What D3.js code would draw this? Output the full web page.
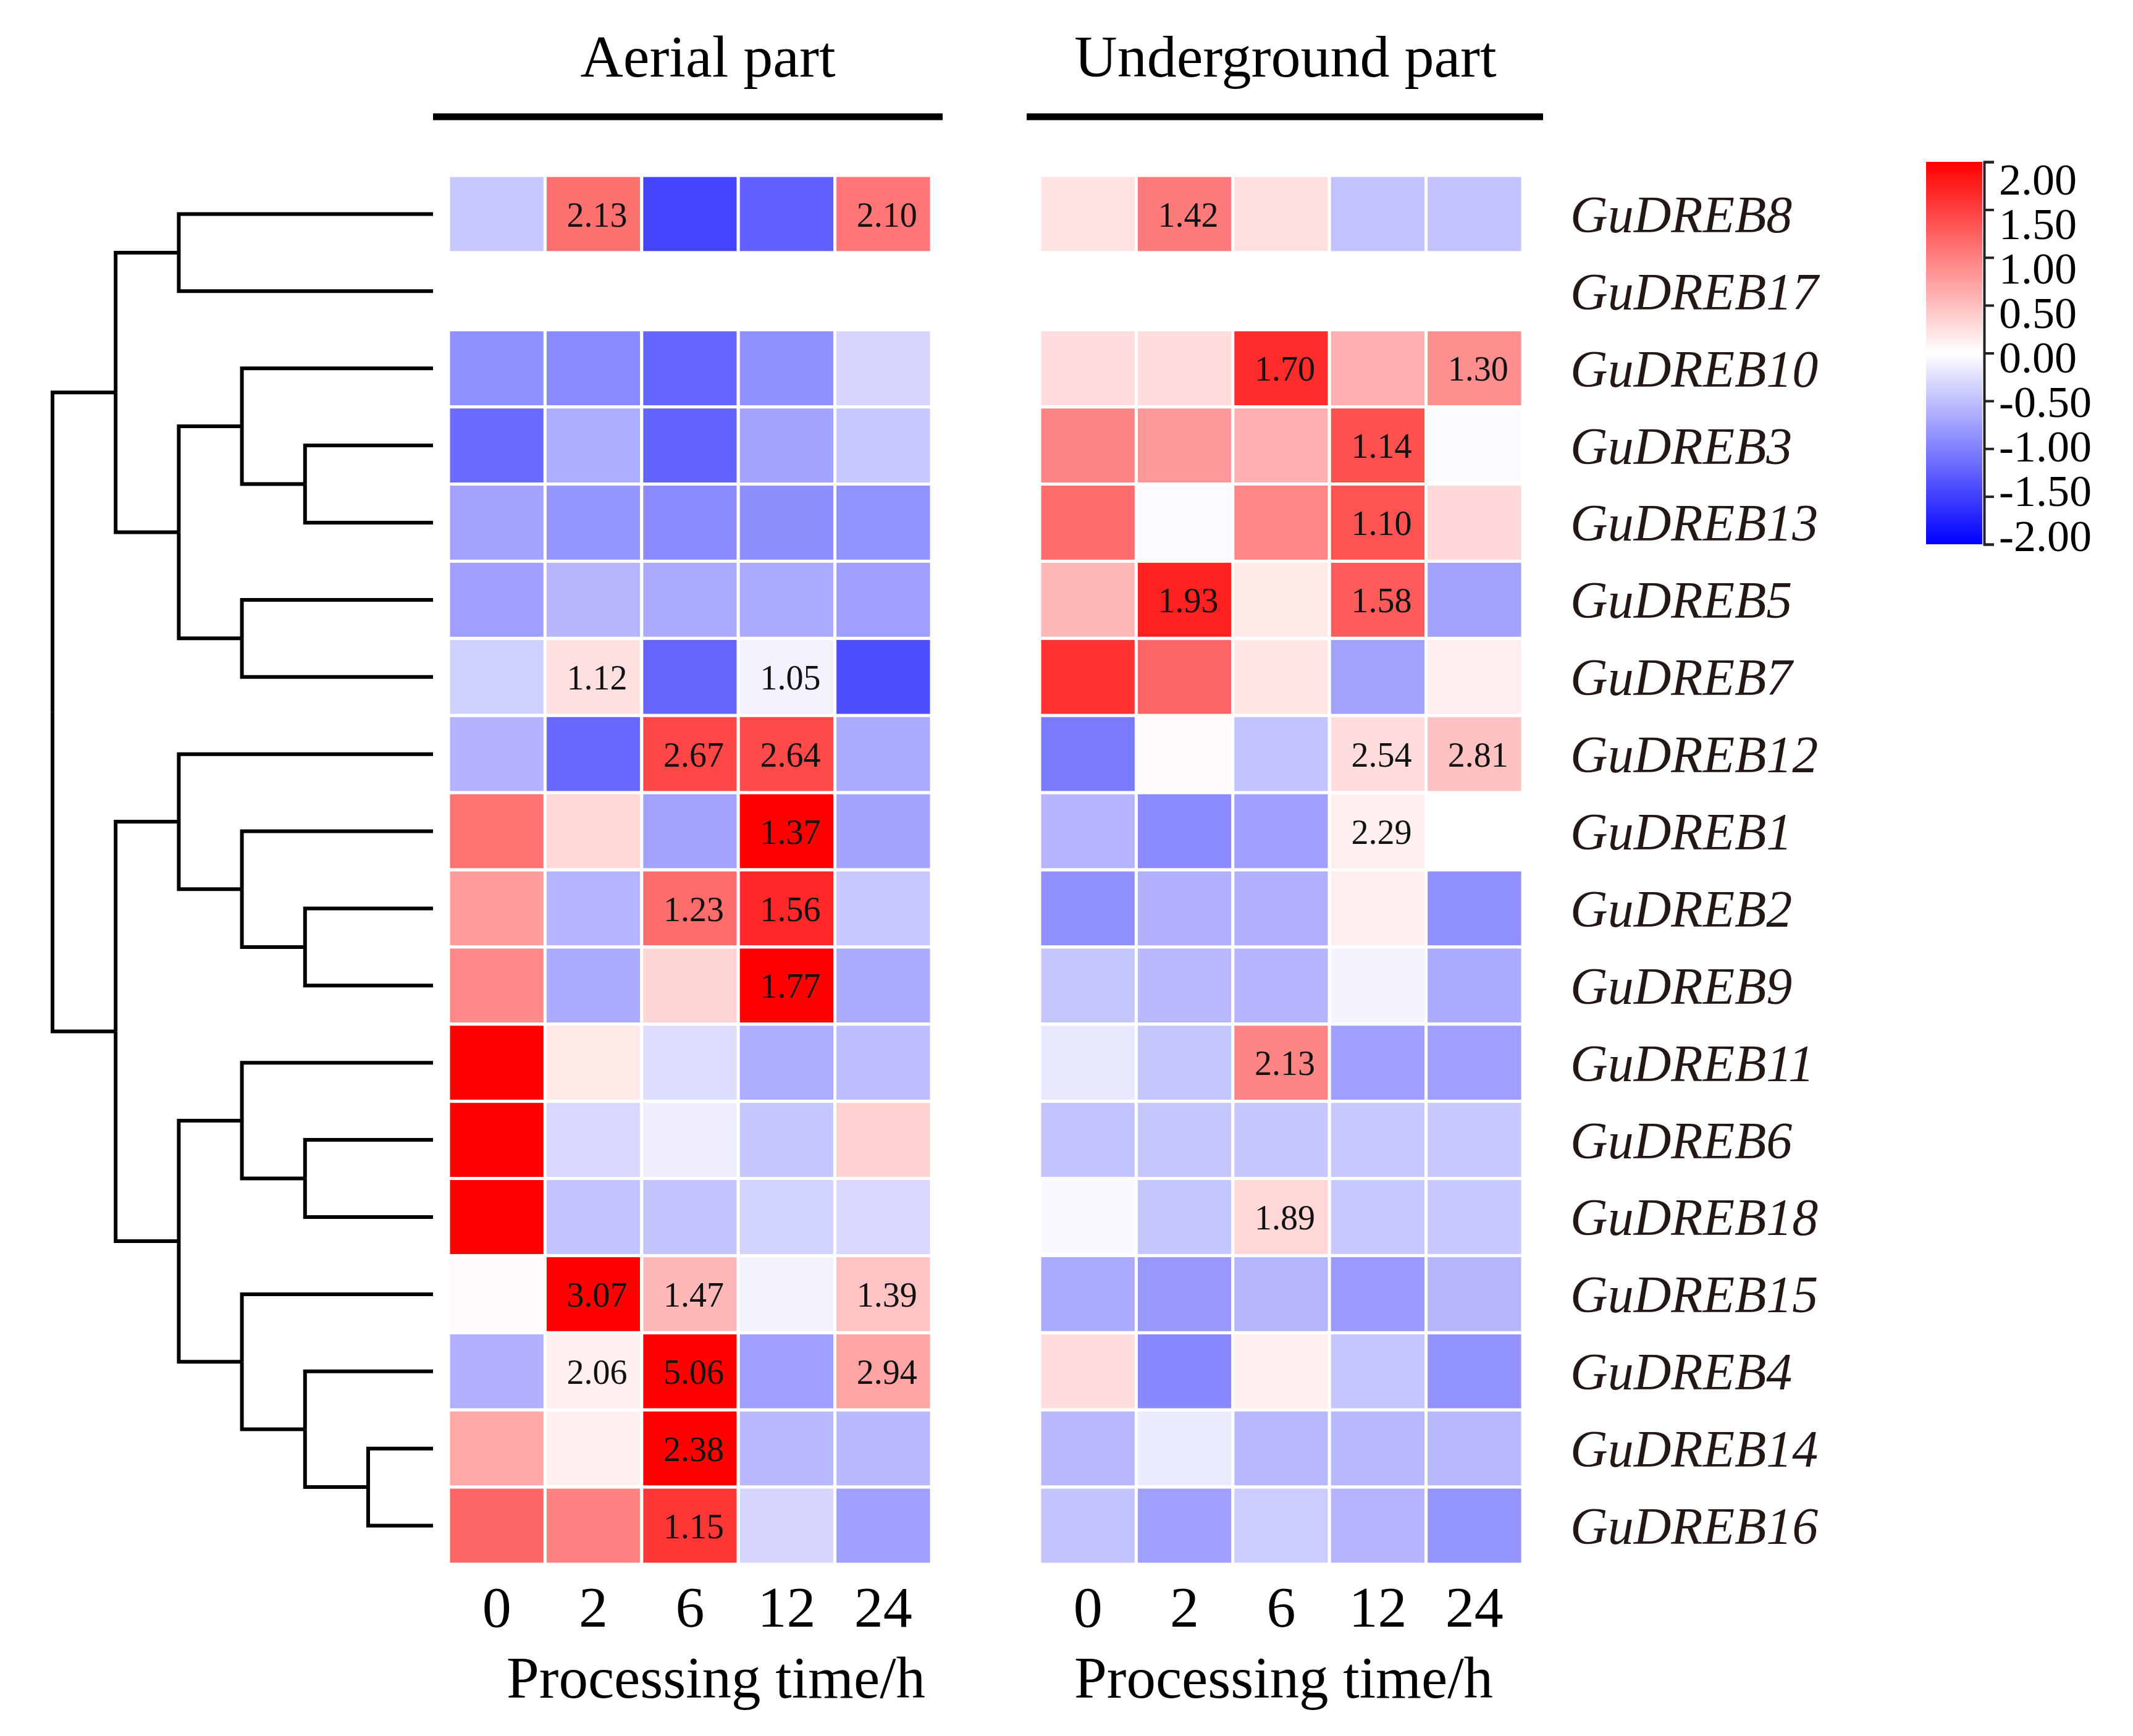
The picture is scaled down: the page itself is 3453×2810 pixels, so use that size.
<!DOCTYPE html>
<html lang="en">
<head>
<meta charset="UTF-8">
<title>GuDREB heatmap</title>
<script src="https://d3js.org/d3.v7.min.js"></script>
<style>
  body { margin: 0; background: #fff; }
  svg { display: block; }
  text { font-family: "Liberation Serif", "Times New Roman", serif; }
</style>
</head>
<body>
<svg width="3453" height="2810"></svg>
<script>
    // ---- data ----
    const genes = ["GuDREB8", "GuDREB17", "GuDREB10", "GuDREB3", "GuDREB13", "GuDREB5", "GuDREB7",
        "GuDREB12", "GuDREB1", "GuDREB2", "GuDREB9", "GuDREB11", "GuDREB6", "GuDREB18",
        "GuDREB15", "GuDREB4", "GuDREB14", "GuDREB16"];
    const times = ["0", "2", "6", "12", "24"];

    // cluster tree (row order above)
    const tree = [
        [["GuDREB8", "GuDREB17"], [["GuDREB10", ["GuDREB3", "GuDREB13"]], ["GuDREB5", "GuDREB7"]]],
        [["GuDREB12", ["GuDREB1", ["GuDREB2", "GuDREB9"]]],
         [["GuDREB11", ["GuDREB6", "GuDREB18"]], ["GuDREB15", ["GuDREB4", ["GuDREB14", "GuDREB16"]]]]]
    ];

    // colour values (scaled), null = no data
    const aerial = [
        [-0.43, 1.12, -1.47, -1.25, 1.08],
        [null, null, null, null, null],
        [-0.87, -0.92, -1.21, -0.87, -0.33],
        [-1.16, -0.64, -1.22, -0.73, -0.43],
        [-0.72, -0.82, -0.91, -0.89, -0.85],
        [-0.75, -0.57, -0.66, -0.66, -0.75],
        [-0.37, 0.24, -1.20, -0.10, -1.39],
        [-0.60, -1.18, 1.44, 1.42, -0.67],
        [1.10, 0.31, -0.72, 2.00, -0.71],
        [0.78, -0.59, 1.15, 1.69, -0.42],
        [0.93, -0.66, 0.33, 2.00, -0.66],
        [2.00, 0.18, -0.27, -0.64, -0.51],
        [2.00, -0.31, -0.13, -0.45, 0.37],
        [2.00, -0.48, -0.48, -0.35, -0.31],
        [0.05, 2.00, 0.56, -0.10, 0.47],
        [-0.62, 0.12, 2.00, -0.75, 0.71],
        [0.68, 0.12, 2.00, -0.55, -0.55],
        [1.20, 0.98, 1.58, -0.33, -0.75]
    ];
    const underground = [
        [0.23, 1.04, 0.26, -0.48, -0.48],
        [null, null, null, null, null],
        [0.27, 0.27, 1.67, 0.62, 0.89],
        [0.96, 0.81, 0.62, 1.37, -0.03],
        [1.15, -0.03, 0.95, 1.36, 0.30],
        [0.56, 1.75, 0.18, 1.29, -0.72],
        [1.60, 1.20, 0.20, -0.72, 0.13],
        [-1.04, 0.03, -0.47, 0.27, 0.49],
        [-0.58, -0.91, -0.75, 0.12, 0.00],
        [-0.88, -0.62, -0.62, 0.12, -0.88],
        [-0.45, -0.55, -0.59, -0.09, -0.66],
        [-0.18, -0.45, 0.96, -0.75, -0.75],
        [-0.47, -0.45, -0.45, -0.43, -0.43],
        [-0.05, -0.45, 0.31, -0.43, -0.43],
        [-0.66, -0.81, -0.57, -0.80, -0.57],
        [0.27, -0.93, 0.12, -0.46, -0.85],
        [-0.56, -0.16, -0.56, -0.56, -0.56],
        [-0.47, -0.75, -0.40, -0.59, -0.84]
    ];

    // numbers printed in cells
    const aerialLabels = [
        [null, "2.13", null, null, "2.10"], [null, null, null, null, null],
        [null, null, null, null, null], [null, null, null, null, null],
        [null, null, null, null, null], [null, null, null, null, null],
        [null, "1.12", null, "1.05", null], [null, null, "2.67", "2.64", null],
        [null, null, null, "1.37", null], [null, null, "1.23", "1.56", null],
        [null, null, null, "1.77", null], [null, null, null, null, null],
        [null, null, null, null, null], [null, null, null, null, null],
        [null, "3.07", "1.47", null, "1.39"], [null, "2.06", "5.06", null, "2.94"],
        [null, null, "2.38", null, null], [null, null, "1.15", null, null]
    ];
    const undergroundLabels = [
        [null, "1.42", null, null, null], [null, null, null, null, null],
        [null, null, "1.70", null, "1.30"], [null, null, null, "1.14", null],
        [null, null, null, "1.10", null], [null, "1.93", null, "1.58", null],
        [null, null, null, null, null], [null, null, null, "2.54", "2.81"],
        [null, null, null, "2.29", null], [null, null, null, null, null],
        [null, null, null, null, null], [null, null, "2.13", null, null],
        [null, null, null, null, null], [null, null, "1.89", null, null],
        [null, null, null, null, null], [null, null, null, null, null],
        [null, null, null, null, null], [null, null, null, null, null]
    ];

    const legendTicks = [-2, -1.5, -1, -0.5, 0, 0.5, 1, 1.5, 2];

    // ---- drawing ----
    const svg = d3.select("svg");
    svg.append("rect").attr("width", 3453).attr("height", 2810).attr("fill", "#fff");

    const y = d3.scaleBand().domain(genes).range([284, 2532]);
    const color = d3.scaleLinear().domain([-2, 0, 2])
        .range(["#0000ff", "#ffffff", "#ff0000"]).clamp(true);

    const panels = [
        { name: "Aerial part", vals: aerial, labs: aerialLabels, range: [726, 1508],
          line: [701, 1526], titleX: 1146, axisTitleX: 1159 },
        { name: "Underground part", vals: underground, labs: undergroundLabels, range: [1683, 2465],
          line: [1662, 2498], titleX: 2081, axisTitleX: 2078 }
    ];

    panels.forEach(function (p) {
        const x = d3.scaleBand().domain(times).range(p.range);
        const g = svg.append("g");

        const cells = [];
        p.vals.forEach(function (row, i) {
            row.forEach(function (v, j) {
                cells.push({ gene: genes[i], time: times[j], v: v, lab: p.labs[i][j] });
            });
        });

        g.selectAll("rect.cell")
            .data(cells.filter(d => d.v !== null))
            .enter().append("rect")
            .attr("class", "cell")
            .attr("x", d => x(d.time))
            .attr("y", d => y(d.gene))
            .attr("width", x.bandwidth())
            .attr("height", y.bandwidth())
            .attr("fill", d => color(d.v))
            .attr("stroke", "#fff")
            .attr("stroke-width", 5);

        g.selectAll("text.lab")
            .data(cells.filter(d => d.lab))
            .enter().append("text")
            .attr("class", "lab")
            .attr("x", d => x(d.time) + x.bandwidth() / 2 + 6)
            .attr("y", d => y(d.gene) + y.bandwidth() / 2)
            .attr("dy", "0.36em")
            .attr("text-anchor", "middle")
            .attr("font-size", 56)
            .attr("fill", "#111")
            .text(d => d.lab);

        // title + bar
        svg.append("text")
            .attr("x", p.titleX).attr("y", 124)
            .attr("text-anchor", "middle")
            .attr("font-size", 96)
            .text(p.name);
        svg.append("line")
            .attr("x1", p.line[0]).attr("x2", p.line[1])
            .attr("y1", 189).attr("y2", 189)
            .attr("stroke", "#000").attr("stroke-width", 11);

        // x axis
        const ax = svg.append("g")
            .attr("transform", "translate(0,2532)")
            .call(d3.axisBottom(x).tickSize(0).tickPadding(34));
        ax.select(".domain").remove();
        ax.selectAll("text")
            .attr("font-size", 94)
            .attr("fill", "#000")
            .style("font-family", "'Liberation Serif', serif");

        svg.append("text")
            .attr("x", p.axisTitleX).attr("y", 2748)
            .attr("text-anchor", "middle")
            .attr("font-size", 95)
            .text("Processing time/h");
    });

    // gene labels
    svg.append("g").selectAll("text")
        .data(genes)
        .enter().append("text")
        .attr("x", 2542)
        .attr("y", d => y(d) + y.bandwidth() / 2)
        .attr("dy", "0.35em")
        .attr("font-size", 84)
        .attr("font-style", "italic")
        .attr("fill", "#231815")
        .text(d => d);

    // dendrogram
    const root = d3.hierarchy(tree, d => Array.isArray(d) ? d : null);
    root.eachAfter(function (n) {
        if (n.children) {
            n.yy = d3.mean(n.children, c => c.yy);
        } else {
            n.yy = y(n.data) + y.bandwidth() / 2;
        }
    });
    const depthX = d3.scaleLinear().domain([0, 5]).range([85, 596]);
    const nodeX = n => n.children ? depthX(n.depth) : 701;

    svg.append("g")
        .attr("fill", "none")
        .attr("stroke", "#000")
        .attr("stroke-width", 6)
        .selectAll("path")
        .data(root.links())
        .enter().append("path")
        .attr("d", l => `M${nodeX(l.target)},${l.target.yy}H${nodeX(l.source)}V${l.source.yy}`);

    // colour legend
    const defs = svg.append("defs");
    const grad = defs.append("linearGradient")
        .attr("id", "legendGrad")
        .attr("x1", 0).attr("y1", 1).attr("x2", 0).attr("y2", 0);
    legendTicks.forEach(function (t) {
        grad.append("stop")
            .attr("offset", (t + 2) / 4)
            .attr("stop-color", color(t));
    });

    const ly = d3.scaleLinear().domain([-2, 2]).range([881, 262]);
    // labels sit a little tighter than the ticks in the original
    const labelY = d3.scaleLinear().domain([-2, 2]).range([868, 291]);
    svg.append("rect")
        .attr("x", 3118).attr("y", ly(2))
        .attr("width", 91).attr("height", ly(-2) - ly(2))
        .attr("fill", "url(#legendGrad)");

    const lax = svg.append("g")
        .attr("transform", "translate(3212,0)")
        .call(d3.axisRight(ly).tickValues(legendTicks).tickSize(16).tickPadding(8)
            .tickFormat(d => d.toFixed(2)));
    lax.select(".domain").attr("stroke-width", 4).attr("stroke", "#222");
    lax.selectAll(".tick line").attr("stroke-width", 4).attr("stroke", "#222");
    lax.selectAll("text")
        .attr("y", d => labelY(d) - ly(d))
        .attr("font-size", 72)
        .attr("fill", "#000")
        .style("font-family", "'Liberation Serif', serif");
</script>
</body>
</html>
